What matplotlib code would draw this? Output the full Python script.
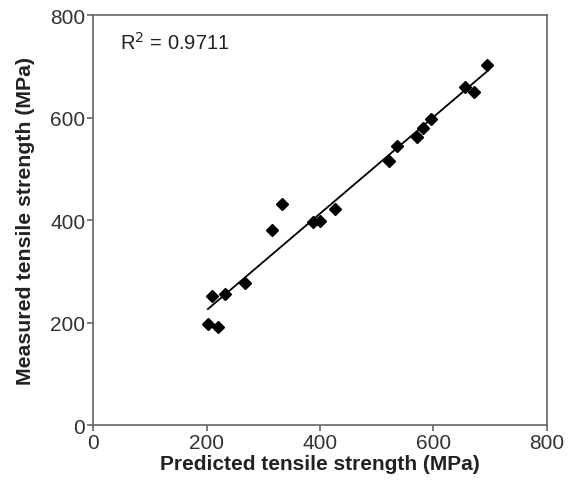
import numpy as np
import matplotlib.pyplot as plt

plt.rcParams['font.family'] = ['Liberation Sans', 'DejaVu Sans']

# Predicted vs measured tensile strength (MPa)
predicted = [202, 209, 220, 233, 268, 315, 333, 388, 400, 427,
             521, 535, 571, 582, 595, 656, 671, 695]
measured = [198, 251, 192, 256, 277, 381, 431, 396, 399, 422,
            515, 544, 563, 579, 598, 660, 651, 702]
r2_text = 'R$^2$ = 0.9711'

x = np.array(predicted)
y = np.array(measured)

fig = plt.figure(figsize=(5.7, 4.85), dpi=100)
ax = fig.add_axes([0.164, 0.1216, 0.795, 0.845])

ax.plot(x, y, 'D', color='black', markersize=6.5)

# linear trendline
k, b = np.polyfit(x, y, 1)
xl = np.array([x.min(), x.max()])
ax.plot(xl, k * xl + b, color='black', lw=1.3)

ax.text(47, 747, r2_text, fontsize=14.5, va='center', ha='left', color='#222222')

ax.set_xlim(0, 800)
ax.set_ylim(0, 800)
ax.set_xticks([0, 200, 400, 600, 800])
ax.set_yticks([0, 200, 400, 600, 800])
ax.set_xlabel('Predicted tensile strength (MPa)', fontsize=15, fontweight='bold', labelpad=1, color='#222222')
ax.set_ylabel('Measured tensile strength (MPa)', fontsize=15.3, fontweight='bold', labelpad=11, color='#222222')

for s in ax.spines.values():
    s.set_color('#666666')
    s.set_linewidth(1.2)
ax.tick_params(direction='out', length=4, width=1.2, color='#666666',
               labelsize=15, labelcolor='#333333', pad=2)

fig.savefig('out.png', dpi=100)
